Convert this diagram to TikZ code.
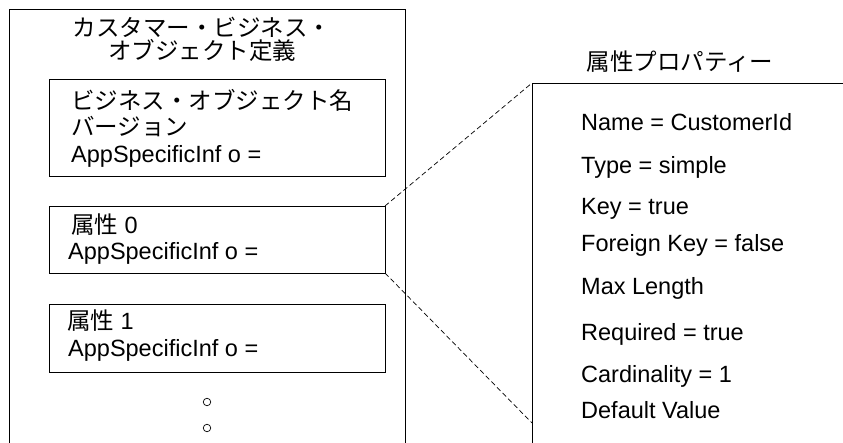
\documentclass[tikz,border=0pt]{standalone}
\usepackage{fontspec}
\setmainfont{Liberation Sans}
\newfontfamily\jp{Noto Sans CJK JP}
\begin{document}
\begin{tikzpicture}[x=1pt,y=-1pt,
  frame/.style={line width=0.9pt},
  box/.style={draw, line width=0.8pt, rectangle, inner sep=0, outer sep=0, anchor=north west},
  txt/.style={anchor=base west, inner sep=0, font=\fontsize{23.5pt}{28pt}\selectfont},
  ctxt/.style={anchor=base, inner sep=0, text height=17pt, text depth=1pt, font=\fontsize{23.5pt}{28pt}\selectfont},
  conn/.style={line width=0.7pt, dash pattern=on 5pt off 3pt},
  dot/.style={draw, circle, line width=0.7pt, inner sep=0, minimum size=7.5pt}]
\useasboundingbox (0,0) rectangle (843,443);
% outer definition frame (open at bottom)
\coordinate (oBL) at (9.5,443);
\coordinate (oTL) at (9.5,9.5);
\coordinate (oTR) at (405,9.5);
\coordinate (oBR) at (405,443);
\draw[frame] (oBL) -- (oTL) -- (oTR) -- (oBR);
\node[ctxt] (t1) at (202,36.5) {\jp カスタマー・ビジネス・};
\node[ctxt] (t2) at (202,59.5) {\jp オブジェクト定義};
% boxes
\node[box, minimum width=336pt, minimum height=97pt] (b1) at (49,79) {};
\node[txt] (b1a) at (71,110) {\jp ビジネス・オブジェクト名};
\node[txt] (b1b) at (71,136) {\jp バージョン};
\node[txt] (b1c) at (71,163) {AppSpecificInf o =};
\node[box, minimum width=336pt, minimum height=67pt] (b2) at (49,206) {};
\node[txt] (b2a) at (71,234) {{\jp 属性} 0};
\node[txt] (b2b) at (68,260) {AppSpecificInf o =};
\node[box, minimum width=336pt, minimum height=68pt] (b3) at (49,304) {};
\node[txt] (b3a) at (67,330) {{\jp 属性} 1};
\node[txt] (b3b) at (68,357) {AppSpecificInf o =};
\node[dot] (d1) at (207,402) {};
\node[dot] (d2) at (207,428) {};
% property panel
\node[ctxt] (pt) at (680,71) {\jp 属性プロパティー};
\coordinate (pTop) at (532,83);
\coordinate (pRight) at (843,83);
\coordinate (pBot) at (532,443);
\coordinate (pLow) at (532,423);
\draw[frame] (pRight) -- (pTop) -- (pBot);
\draw[conn] (b2.north east) -- (pTop);
\draw[conn] (b2.south east) -- (pLow);
\node[txt] (p1) at (581,131) {Name = CustomerId};
\node[txt] (p2) at (581,174) {Type = simple};
\node[txt] (p3) at (581,215) {Key = true};
\node[txt] (p4) at (581,252) {Foreign Key = false};
\node[txt] (p5) at (581,295) {Max Length};
\node[txt] (p6) at (581,341) {Required = true};
\node[txt] (p7) at (581,382) {Cardinality = 1};
\node[txt] (p8) at (581,418) {Default Value};
\end{tikzpicture}
\end{document}
